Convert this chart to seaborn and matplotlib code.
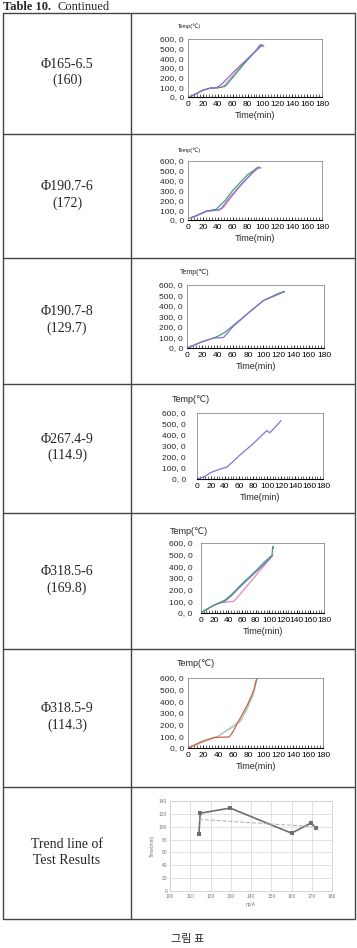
import numpy as np
import pandas as pd
import matplotlib
matplotlib.use("Agg")
import matplotlib.pyplot as plt
import seaborn as sns
from matplotlib.ticker import MultipleLocator, FuncFormatter

# ---------------- data ----------------
row_labels = ["Φ165-6.5\n(160)", "Φ190.7-6\n(172)", "Φ190.7-8\n(129.7)",
              "Φ267.4-9\n(114.9)", "Φ318.5-6\n(169.8)", "Φ318.5-9\n(114.3)",
              "Trend line of\nTest Results"]

# chart 1 : Φ165-6.5
c1_a_t = [3, 10, 20, 30, 38, 45, 60, 75, 90, 98, 100, 101]
c1_a_T = [5, 30, 70, 92, 95, 130, 250, 360, 470, 530, 540, 525]
c1_b_t = [3, 10, 20, 30, 40, 50, 60, 75, 90, 97, 100]
c1_b_T = [5, 30, 70, 92, 95, 110, 200, 340, 470, 540, 530]
c1_c_t = [3, 10, 20, 30, 40, 48, 60, 75, 90, 100, 102]
c1_c_T = [5, 30, 72, 92, 95, 110, 220, 350, 465, 535, 520]

# chart 2 : Φ190.7-6
c2_a_t = [3, 10, 25, 40, 45, 55, 70, 85, 93, 98]
c2_a_T = [20, 40, 90, 100, 120, 220, 350, 470, 530, 530]
c2_b_t = [3, 10, 25, 38, 50, 60, 80, 95]
c2_b_T = [20, 40, 90, 110, 200, 300, 460, 540]
c2_c_t = [3, 10, 25, 42, 48, 58, 72, 87, 96]
c2_c_T = [20, 40, 90, 100, 130, 230, 360, 480, 535]

# chart 3 : Φ190.7-8
c3_a_t = [2, 20, 35, 48, 60, 80, 100, 120, 128]
c3_a_T = [5, 60, 95, 100, 200, 330, 450, 520, 540]
c3_b_t = [2, 20, 35, 40, 50, 60, 80, 100, 128]
c3_b_T = [5, 60, 95, 110, 150, 210, 330, 450, 535]

# chart 4 : Φ267.4-9
c4_a_t = [2, 10, 20, 35, 42, 50, 60, 80, 98, 100, 104, 110, 120]
c4_a_T = [5, 20, 60, 95, 105, 150, 210, 320, 430, 440, 420, 460, 530]

# chart 5 : Φ318.5-6
c5_a_t = [2, 20, 35, 45, 60, 80, 95, 103, 104, 105, 106]
c5_a_T = [10, 70, 110, 160, 250, 360, 450, 490, 500, 570, 555]
c5_b_t = [2, 20, 30, 48, 60, 80, 100, 105]
c5_b_T = [10, 70, 90, 100, 180, 320, 460, 490]
c5_c_t = [2, 20, 35, 45, 60, 80, 100, 105]
c5_c_T = [10, 70, 100, 150, 240, 350, 460, 500]

# chart 6 : Φ318.5-9
c6_a_t = [2, 20, 35, 55, 60, 70, 80, 88, 92]
c6_a_T = [5, 60, 90, 95, 140, 260, 380, 500, 600]
c6_b_t = [2, 20, 40, 60, 70, 80, 88, 92]
c6_b_T = [5, 50, 100, 180, 230, 350, 480, 600]
c6_c_t = [2, 20, 40, 60, 72, 80, 87, 90]
c6_c_T = [5, 55, 100, 190, 250, 360, 450, 580]

# trend chart
trend_x = [114.3, 114.9, 129.7, 160, 169.8, 172]
trend_y = [89, 121, 129, 90, 106, 98]

# ---------------- figure ----------------
sns.set_theme(style="white")
plt.rcParams["font.family"] = ["Liberation Sans", "DejaVu Sans"]

W, H = 357, 948
fig = plt.figure(figsize=(W / 100, H / 100), dpi=100)


def ax_px(x0, y0, x1, y1):
    return fig.add_axes([x0 / W, 1 - y1 / H, (x1 - x0) / W, (y1 - y0) / H])


bg = fig.add_axes([0, 0, 1, 1])
bg.set_xlim(0, W)
bg.set_ylim(H, 0)
bg.axis("off")

rows = [13, 134, 258, 384, 513, 649, 787, 919]
xl, xm, xr = 3, 131, 355
lc = "#454545"
for y in rows:
    bg.plot([xl, xr], [y, y], color=lc, lw=1.0)
for x in (xl, xm, xr):
    bg.plot([x, x], [rows[0], rows[-1]], color=lc, lw=1.0)

serif = ["Liberation Serif", "DejaVu Serif"]
bg.text(3, 10, "Table 10.", fontsize=9, weight="bold", family=serif, va="baseline")
bg.text(57, 10, "Continued", fontsize=9, family=serif, va="baseline")

for i, lab in enumerate(row_labels):
    yc = (rows[i] + rows[i + 1]) / 2 - 1
    bg.text(67, yc, lab, fontsize=10, family=serif, ha="center", va="center",
            linespacing=1.3)

bg.text(188, 934, "그림 표", fontsize=8, family=["Noto Sans CJK KR", "DejaVu Sans"],
        ha="center", va="top")

purple = "#8a6fd6"
green = "#3aa56a"
pink = "#e489b8"

charts = [
    dict(box=(188, 39, 322, 97), temp=(178, 26, 4.0), ypad=3,
         series=[(c1_c_t, c1_c_T, pink), (c1_b_t, c1_b_T, green), (c1_a_t, c1_a_T, purple)]),
    dict(box=(188, 161, 322, 220), temp=(178, 150, 4.0), ypad=3,
         series=[(c2_c_t, c2_c_T, pink), (c2_b_t, c2_b_T, green), (c2_a_t, c2_a_T, purple)]),
    dict(box=(187, 285, 324, 348), temp=(180, 273, 5.0), ypad=3,
         series=[(c3_b_t, c3_b_T, green), (c3_a_t, c3_a_T, purple)]),
    dict(box=(197, 413, 323, 479), temp=(172, 400, 6.5), ypad=8,
         series=[(c4_a_t, c4_a_T, purple)]),
    dict(box=(201, 543, 324, 613), temp=(170, 531, 6.5), ypad=6,
         series=[(c5_b_t, c5_b_T, pink), (c5_c_t, c5_c_T, purple), (c5_a_t, c5_a_T, green)]),
    dict(box=(188, 678, 323, 748), temp=(177, 664, 6.5), ypad=3,
         series=[(c6_c_t, c6_c_T, "#b9c7d6"), (c6_b_t, c6_b_T, "#a8d4a8"), (c6_a_t, c6_a_T, "#d2604c")]),
]

for ch in charts:
    ax = ax_px(*ch["box"])
    for k, (t, T, col) in enumerate(ch["series"]):
        df = pd.DataFrame({"time": t, "temp": T})
        sns.lineplot(data=df, x="time", y="temp", sort=False, estimator=None,
                     color=col, lw=0.9, ax=ax, legend=False)
    ax.set_xlim(0, 180)
    ax.set_ylim(0, 600)
    ax.xaxis.set_major_locator(MultipleLocator(20))
    ax.xaxis.set_minor_locator(MultipleLocator(4))
    ax.yaxis.set_major_locator(MultipleLocator(100))
    ax.yaxis.set_major_formatter(FuncFormatter(lambda v, p: f"{int(v)}, 0"))
    ax.tick_params(axis="x", which="major", direction="in", length=2.5, width=0.6,
                   labelsize=6, pad=3, bottom=True, colors="black")
    ax.tick_params(axis="x", which="minor", direction="in", length=2, width=0.5, bottom=True)
    ax.tick_params(axis="y", length=0, labelsize=6, pad=ch["ypad"])
    for s in ax.spines.values():
        s.set_color("#8a8a8a")
        s.set_linewidth(0.6)
    ax.spines["bottom"].set_color("black")
    ax.spines["bottom"].set_linewidth(0.8)
    ax.set_xlabel("Time(min)", fontsize=6.5, labelpad=2)
    ax.set_ylabel("")
    tx, ty, tfs = ch["temp"]
    bg.text(tx, ty, "Temp(℃)", fontsize=tfs, ha="left", va="center")

# trend chart
ax = ax_px(170, 801, 332, 891)
sns.lineplot(x=trend_x, y=trend_y, sort=True, estimator=None, color="#6e6e6e",
             lw=1.2, marker="s", markersize=2.6, markeredgewidth=0, ax=ax)
sns.regplot(x=trend_x, y=trend_y, scatter=False, ci=None, truncate=True,
            line_kws=dict(color="#b5b5b5", lw=0.8, ls="--"), ax=ax)
ax.set_xlim(100, 180)
ax.set_ylim(0, 140)
ax.xaxis.set_major_locator(MultipleLocator(10))
ax.yaxis.set_major_locator(MultipleLocator(20))
ax.grid(True, color="#dcdcdc", lw=0.6)
for s in ax.spines.values():
    s.set_color("#d0d0d0")
    s.set_linewidth(0.6)
ax.tick_params(length=0, labelsize=3.5, colors="#777777", pad=2)
ax.set_xlabel("ηp/A", fontsize=3.5, color="#777777", labelpad=2)
ax.set_ylabel("Time(min)", fontsize=3.5, color="#777777", labelpad=3)

fig.savefig("out.png", dpi=100)
